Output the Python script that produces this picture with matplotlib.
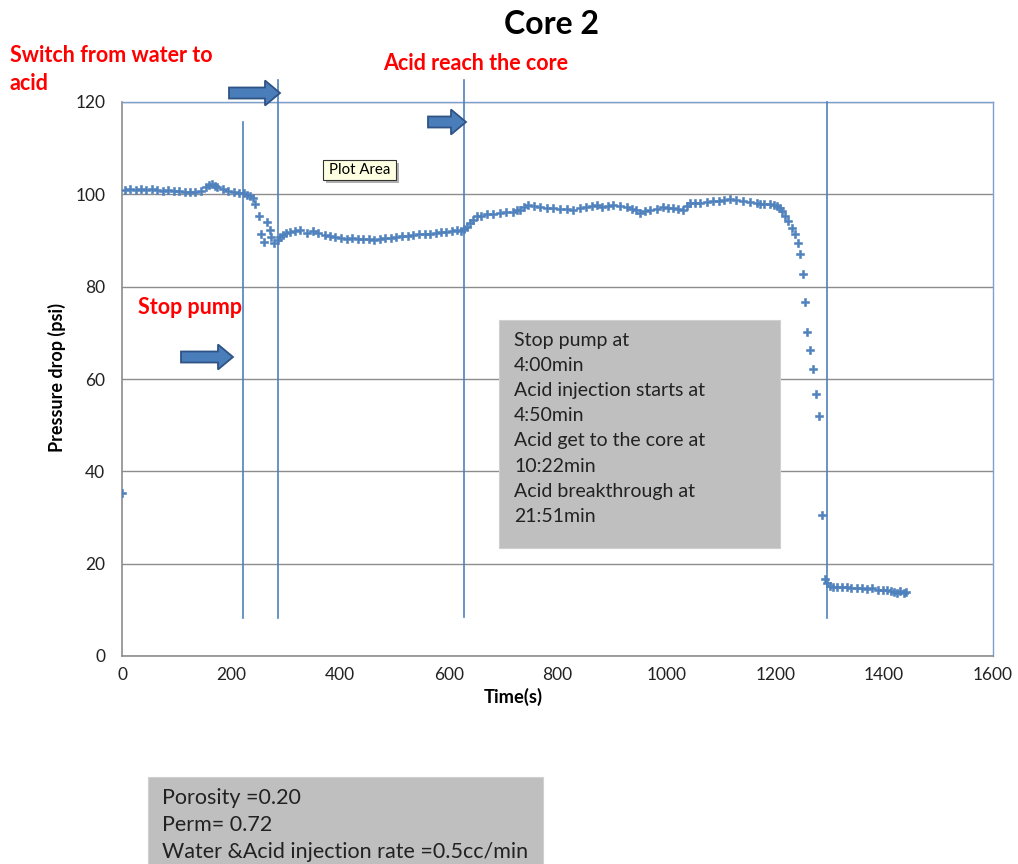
import matplotlib
matplotlib.use("Agg")
import matplotlib.pyplot as plt
from matplotlib.patches import Polygon, Rectangle
from matplotlib.lines import Line2D

plt.rcParams['font.family'] = ['Lato', 'DejaVu Sans']

# ---- data ----
time_s = [0, 5, 15, 25, 35, 45, 55, 65, 75, 85, 95, 105, 115, 125, 135, 145, 155, 160, 165, 170,
          175, 185, 195, 205, 215, 225, 230, 235, 240, 245, 251, 256, 261, 266, 271, 274, 280, 286,
          291, 296, 301, 308, 318, 327, 339, 351, 360, 372, 382, 392, 402, 413, 423, 433, 443, 453,
          463, 474, 484, 494, 504, 515, 525, 535, 545, 556, 566, 576, 586, 596, 606, 615, 622, 628,
          633, 639, 645, 652, 660, 670, 682, 694, 706, 718, 725, 731, 738, 746, 756, 768, 780, 792,
          804, 817, 829, 841, 853, 863, 872, 882, 892, 902, 914, 927, 936, 945, 951, 960, 970, 982,
          994, 1003, 1012, 1021, 1030, 1037, 1043, 1052, 1062, 1074, 1086, 1096, 1106, 1117, 1128,
          1141, 1153, 1166, 1172, 1180, 1190, 1197, 1203, 1208, 1212, 1218, 1224, 1230, 1236, 1241,
          1246, 1251, 1254, 1259, 1264, 1269, 1275, 1280, 1285, 1291, 1295, 1300, 1306, 1313, 1322,
          1331, 1340, 1350, 1360, 1369, 1378, 1388, 1398, 1405, 1412, 1418, 1423, 1430, 1436, 1441]
pressure_psi = [35.3, 101.0, 101.1, 100.9, 101.2, 101.0, 101.1, 100.9, 100.8, 101.0, 100.7, 100.8,
                100.6, 100.5, 100.6, 100.8, 101.5, 102.1, 102.3, 101.8, 101.5, 101.2, 100.8, 100.4,
                100.3, 100.2, 99.9, 99.7, 99.1, 97.8, 95.2, 91.5, 89.7, 94.1, 92.3, 90.7, 89.4, 90.1,
                90.8, 91.2, 91.7, 91.9, 92.1, 92.3, 91.7, 92.0, 91.6, 91.2, 91.0, 90.8, 90.6, 90.4,
                90.5, 90.3, 90.3, 90.4, 90.2, 90.3, 90.5, 90.6, 90.7, 90.9, 91.0, 91.2, 91.3, 91.4,
                91.5, 91.6, 91.8, 91.9, 92.1, 92.3, 92.0, 92.4, 93.0, 93.7, 94.5, 95.2, 95.4, 95.7,
                95.8, 96.0, 96.1, 96.2, 96.5, 96.7, 97.2, 97.7, 97.5, 97.2, 97.0, 97.1, 96.9, 96.9,
                96.7, 97.0, 97.3, 97.4, 97.6, 97.3, 97.5, 97.6, 97.4, 97.2, 96.8, 96.5, 96.0, 96.3,
                96.7, 96.9, 97.3, 97.1, 97.0, 96.9, 96.7, 97.5, 98.2, 98.1, 98.2, 98.4, 98.6, 98.5,
                98.8, 98.9, 98.7, 98.6, 98.4, 98.2, 98.0, 97.9, 97.9, 97.7, 97.5, 97.0, 96.3, 95.2,
                94.2, 92.8, 91.3, 89.5, 87.1, 82.8, 76.7, 70.1, 66.2, 62.2, 56.8, 51.9, 30.5, 16.7,
                15.8, 15.2, 15.0, 14.9, 15.0, 14.9, 14.8, 14.7, 14.8, 14.6, 14.7, 14.4, 14.2, 14.4,
                14.0, 13.8, 13.7, 14.0, 13.7, 13.9]

x_ticks = [0, 200, 400, 600, 800, 1000, 1200, 1400, 1600]
y_ticks = [0, 20, 40, 60, 80, 100, 120]

# event markers (vertical lines): time, bottom, top (psi units, extend beyond axes)
event_times = [222, 286, 628, 1295]
event_bottoms = [8.2, 8.2, 8.5, 8.3]
event_tops = [115.7, 124.8, 124.8, 119.9]

title = "Core 2"
info_lines = ["Stop pump at", "4:00min", "Acid injection starts at", "4:50min",
              "Acid get to the core at", "10:22min", "Acid breakthrough at", "21:51min"]
core_lines = ["Porosity =0.20", "Perm= 0.72", "Water &Acid injection rate =0.5cc/min"]

W, H = 1018, 864
fig = plt.figure(figsize=(W / 100, H / 100), dpi=100)
fig.patch.set_facecolor('white')

def fx(px):
    return px / W

def fy(py):
    return 1 - py / H

ax = fig.add_axes([fx(122), fy(656), fx(993) - fx(122), fy(102) - fy(656)])
ax.set_xlim(0, 1600)
ax.set_ylim(0, 120)
ax.set_xticks(x_ticks)
ax.set_yticks(y_ticks)
ax.tick_params(length=0, labelsize=12.5, pad=12, colors='#222222')
ax.tick_params(axis='x', pad=8)
ax.grid(axis='y', color='#8c8c8c', linewidth=1.0)
ax.set_axisbelow(True)
for s in ['left', 'bottom']:
    ax.spines[s].set_color('#8c8c8c')
    ax.spines[s].set_linewidth(1.2)
for s in ['top', 'right']:
    ax.spines[s].set_color('#7c9fcf')
    ax.spines[s].set_linewidth(1.0)

blue = '#4F81BD'
ax.plot(time_s, pressure_psi, linestyle='none', marker='P', markersize=5.6,
        color=blue, markeredgecolor=blue, markeredgewidth=0.4, zorder=3)

for t, b, tp in zip(event_times, event_bottoms, event_tops):
    ax.add_line(Line2D([t, t], [b, tp], color=blue, linewidth=1.2, clip_on=False, zorder=4))

# labels
fig.text(fx(551), fy(25), title, ha='center', va='center', fontsize=23, fontweight='bold')
fig.text(fx(57), fy(377), "Pressure drop (psi)", rotation=90, ha='center', va='center',
         fontsize=13, fontweight='bold')
fig.text(fx(513), fy(697), "Time(s)", ha='center', va='center', fontsize=13.2, fontweight='bold')

red = '#ff0000'
fs_red = 15.5
fig.text(fx(10), fy(55), "Switch from water to", ha='left', va='center', fontsize=fs_red,
         fontweight='bold', color=red)
fig.text(fx(10), fy(83), "acid", ha='left', va='center', fontsize=fs_red,
         fontweight='bold', color=red)
fig.text(fx(383), fy(64), "Acid reach the core", ha='left', va='center', fontsize=fs_red,
         fontweight='bold', color=red)
fig.text(fx(138), fy(307), "Stop pump", ha='left', va='center', fontsize=fs_red,
         fontweight='bold', color=red)

# block arrows
def block_arrow(x0, x1, yc, head_len=15, shaft_h=5.5, head_h=12.5):
    xh = x1 - head_len
    pts = [(x0, yc - shaft_h), (xh, yc - shaft_h), (xh, yc - head_h), (x1, yc),
           (xh, yc + head_h), (xh, yc + shaft_h), (x0, yc + shaft_h)]
    poly = Polygon([(fx(a), fy(b)) for a, b in pts], closed=True, transform=fig.transFigure,
                   facecolor='#4a7ebb', edgecolor='#2f5385', linewidth=1.3, zorder=10)
    fig.add_artist(poly)

block_arrow(229, 280, 93)
block_arrow(428, 466, 122)
block_arrow(181, 233, 357)

# "Plot Area" tooltip
fig.add_artist(Rectangle((fx(326), fy(183)), fx(73), fy(160) - fy(180), transform=fig.transFigure,
                         facecolor='#b0b0b0', edgecolor='none', zorder=9))
fig.add_artist(Rectangle((fx(323), fy(180)), fx(73), fy(160) - fy(180), transform=fig.transFigure,
                         facecolor='#ffffe1', edgecolor='#333333', linewidth=0.8, zorder=10))
fig.text(fx(359.5), fy(170), "Plot Area", ha='center', va='center', fontsize=10.8, zorder=11)

# info box
fig.add_artist(Rectangle((fx(499), fy(548)), fx(281), fy(320) - fy(548), transform=fig.transFigure,
                         facecolor='#bfbfbf', edgecolor='#d0d0d0', linewidth=0.8, zorder=8))
for i, line in enumerate(info_lines):
    fig.text(fx(514), fy(340 + i * 25.2), line, ha='left', va='center', fontsize=14,
             color='#222222', zorder=9)

# core property box
fig.add_artist(Rectangle((fx(148), fy(870)), fx(395), fy(777) - fy(870), transform=fig.transFigure,
                         facecolor='#bfbfbf', edgecolor='#d0d0d0', linewidth=0.8, zorder=8))
for i, line in enumerate(core_lines):
    fig.text(fx(162), fy(798 + i * 27), line, ha='left', va='center', fontsize=15.5,
             color='#222222', zorder=9)

fig.savefig("out.png", dpi=100)
